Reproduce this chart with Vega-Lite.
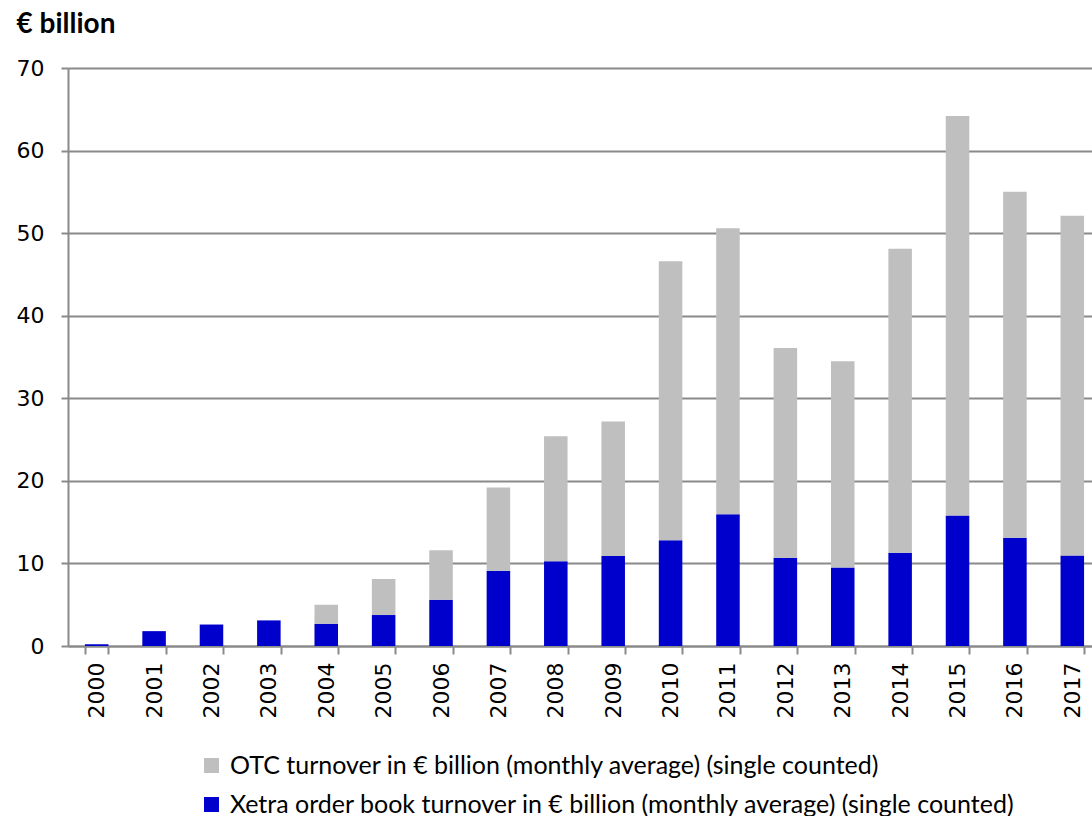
{
  "$schema": "https://vega.github.io/schema/vega-lite/v6.json",
  "width": 1033,
  "height": 578,
  "autosize": {"type": "none"},
  "padding": {"left": 68, "top": 68, "right": 0, "bottom": 170},
  "background": "white",
  "config": {
    "view": {"stroke": null},
    "font": "DejaVu Sans"
  },
  "data": {
    "values": [
      {"Year": "2000", "Series": "Xetra order book turnover in € billion (monthly average) (single counted)", "Value": 0.2},
      {"Year": "2001", "Series": "Xetra order book turnover in € billion (monthly average) (single counted)", "Value": 1.8},
      {"Year": "2002", "Series": "Xetra order book turnover in € billion (monthly average) (single counted)", "Value": 2.6},
      {"Year": "2003", "Series": "Xetra order book turnover in € billion (monthly average) (single counted)", "Value": 3.1},
      {"Year": "2004", "Series": "Xetra order book turnover in € billion (monthly average) (single counted)", "Value": 2.7},
      {"Year": "2005", "Series": "Xetra order book turnover in € billion (monthly average) (single counted)", "Value": 3.75},
      {"Year": "2006", "Series": "Xetra order book turnover in € billion (monthly average) (single counted)", "Value": 5.6},
      {"Year": "2007", "Series": "Xetra order book turnover in € billion (monthly average) (single counted)", "Value": 9.1},
      {"Year": "2008", "Series": "Xetra order book turnover in € billion (monthly average) (single counted)", "Value": 10.25},
      {"Year": "2009", "Series": "Xetra order book turnover in € billion (monthly average) (single counted)", "Value": 10.9},
      {"Year": "2010", "Series": "Xetra order book turnover in € billion (monthly average) (single counted)", "Value": 12.8},
      {"Year": "2011", "Series": "Xetra order book turnover in € billion (monthly average) (single counted)", "Value": 15.95},
      {"Year": "2012", "Series": "Xetra order book turnover in € billion (monthly average) (single counted)", "Value": 10.7},
      {"Year": "2013", "Series": "Xetra order book turnover in € billion (monthly average) (single counted)", "Value": 9.5},
      {"Year": "2014", "Series": "Xetra order book turnover in € billion (monthly average) (single counted)", "Value": 11.3},
      {"Year": "2015", "Series": "Xetra order book turnover in € billion (monthly average) (single counted)", "Value": 15.8},
      {"Year": "2016", "Series": "Xetra order book turnover in € billion (monthly average) (single counted)", "Value": 13.1},
      {"Year": "2017", "Series": "Xetra order book turnover in € billion (monthly average) (single counted)", "Value": 10.95},
      {"Year": "2000", "Series": "OTC turnover in € billion (monthly average) (single counted)", "Value": 0},
      {"Year": "2001", "Series": "OTC turnover in € billion (monthly average) (single counted)", "Value": 0},
      {"Year": "2002", "Series": "OTC turnover in € billion (monthly average) (single counted)", "Value": 0},
      {"Year": "2003", "Series": "OTC turnover in € billion (monthly average) (single counted)", "Value": 0},
      {"Year": "2004", "Series": "OTC turnover in € billion (monthly average) (single counted)", "Value": 2.3},
      {"Year": "2005", "Series": "OTC turnover in € billion (monthly average) (single counted)", "Value": 4.35},
      {"Year": "2006", "Series": "OTC turnover in € billion (monthly average) (single counted)", "Value": 6.0},
      {"Year": "2007", "Series": "OTC turnover in € billion (monthly average) (single counted)", "Value": 10.1},
      {"Year": "2008", "Series": "OTC turnover in € billion (monthly average) (single counted)", "Value": 15.15},
      {"Year": "2009", "Series": "OTC turnover in € billion (monthly average) (single counted)", "Value": 16.3},
      {"Year": "2010", "Series": "OTC turnover in € billion (monthly average) (single counted)", "Value": 33.8},
      {"Year": "2011", "Series": "OTC turnover in € billion (monthly average) (single counted)", "Value": 34.65},
      {"Year": "2012", "Series": "OTC turnover in € billion (monthly average) (single counted)", "Value": 25.4},
      {"Year": "2013", "Series": "OTC turnover in € billion (monthly average) (single counted)", "Value": 25.0},
      {"Year": "2014", "Series": "OTC turnover in € billion (monthly average) (single counted)", "Value": 36.8},
      {"Year": "2015", "Series": "OTC turnover in € billion (monthly average) (single counted)", "Value": 48.4},
      {"Year": "2016", "Series": "OTC turnover in € billion (monthly average) (single counted)", "Value": 41.9},
      {"Year": "2017", "Series": "OTC turnover in € billion (monthly average) (single counted)", "Value": 41.15}
    ]
  },
  "mark": {"type": "bar"},
  "encoding": {
    "x": {
      "field": "Year",
      "type": "ordinal",
      "scale": {"paddingInner": 0.59, "paddingOuter": 0.295},
      "axis": {
        "title": null,
        "labelAngle": -90,
        "labelAlign": "right",
        "labelBaseline": "middle",
        "labelFont": "DejaVu Sans",
        "labelFontSize": 22,
        "labelColor": "#000000",
        "labelPadding": 8,
        "tickBand": "extent",
        "tickSize": 8,
        "tickColor": "#8a8a8a",
        "tickWidth": 2,
        "domainColor": "#8a8a8a",
        "domainWidth": 2,
        "grid": false
      }
    },
    "y": {
      "field": "Value",
      "type": "quantitative",
      "stack": "zero",
      "scale": {"domain": [0, 70], "nice": false},
      "axis": {
        "title": "€ billion",
        "titleAngle": 0,
        "titleX": -52,
        "titleY": -36,
        "titleAlign": "left",
        "titleBaseline": "alphabetic",
        "titleFont": "Lato",
        "titleFontSize": 28,
        "titleFontWeight": "bold",
        "titleColor": "#000000",
        "values": [0, 10, 20, 30, 40, 50, 60, 70],
        "labelFont": "DejaVu Sans",
        "labelFontSize": 22,
        "labelColor": "#000000",
        "labelPadding": 17,
        "tickSize": 7,
        "tickColor": "#8a8a8a",
        "tickWidth": 2,
        "domainColor": "#8a8a8a",
        "domainWidth": 2,
        "grid": true,
        "gridColor": "#8a8a8a",
        "gridWidth": 2
      }
    },
    "color": {
      "field": "Series",
      "type": "nominal",
      "scale": {
        "domain": [
          "OTC turnover in € billion (monthly average) (single counted)",
          "Xetra order book turnover in € billion (monthly average) (single counted)"
        ],
        "range": ["#BFBFBF", "#0000CC"]
      },
      "legend": {
        "title": null,
        "orient": "none",
        "legendX": 131,
        "legendY": 685,
        "direction": "vertical",
        "padding": 0,
        "symbolType": "square",
        "symbolSize": 225,
        "symbolStrokeWidth": 0,
        "labelFont": "Lato",
        "labelFontSize": 25,
        "labelColor": "#000000",
        "labelOffset": 6,
        "labelLimit": 1000,
        "rowPadding": 13
      }
    },
    "order": {"field": "Series", "sort": "descending"}
  }
}
